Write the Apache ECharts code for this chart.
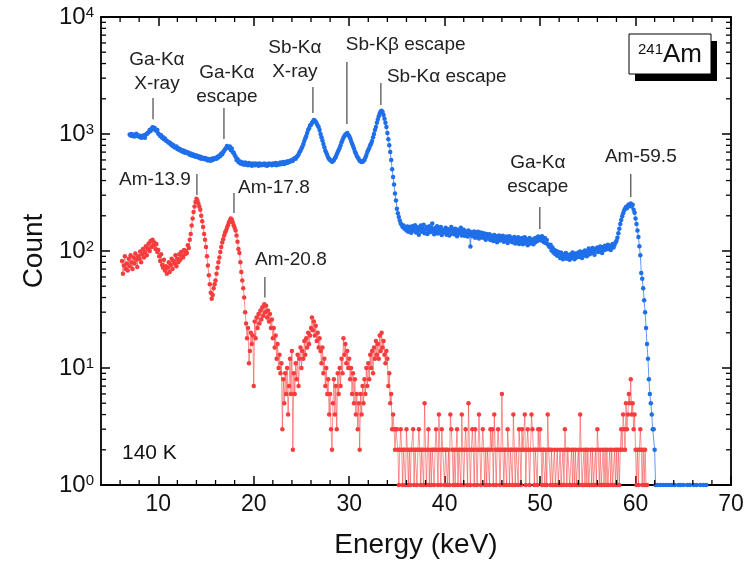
<!DOCTYPE html>
<html><head><meta charset="utf-8">
<script src="https://cdn.jsdelivr.net/npm/echarts@6/dist/echarts.min.js"></script>
<style>html,body{margin:0;padding:0;background:#fff}#c{width:748px;height:566px}</style>
</head><body><div id="c"></div>
<script>
// ---------- data ----------
const blueStart = 7.0, blueStep = 0.1;   // keV per channel
const blueCounts = [
 990,970,1000,960,985,950,975,1005,960,970,
 945,965,930,960,940,975,930,990,1000,1020,
 1040,1080,1060,1110,1140,1100,1130,1090,1060,1080,
 1010,990,960,975,930,940,900,915,880,870,
 860,840,845,815,820,790,800,770,765,780,
 745,755,730,740,715,725,700,720,690,705,
 700,680,690,665,680,655,670,650,660,640,
 655,635,645,625,640,615,630,620,610,625,
 605,615,595,610,600,590,615,600,620,610,
 625,615,640,630,655,650,680,670,700,720,
 740,760,790,770,760,780,730,750,700,690,
 660,640,600,610,575,585,560,575,555,565,
 545,570,550,560,540,565,545,555,535,560,
 550,540,560,545,555,535,560,550,540,555,
 545,560,540,555,535,550,560,545,555,540,
 560,545,555,565,540,555,560,550,570,555,
 560,575,555,570,580,565,585,575,590,585,
 600,590,610,620,615,640,650,670,700,720,
 750,780,820,870,920,960,1020,1080,1120,1180,
 1200,1240,1280,1320,1300,1270,1230,1180,1150,1080,
 1000,940,880,820,770,720,690,660,630,610,
 600,590,580,585,600,620,640,670,700,730,
 760,800,850,890,930,960,990,1000,1020,980,
 960,920,870,830,790,750,710,680,650,630,
 610,590,585,575,580,590,600,630,660,700,
 730,760,800,830,870,940,1000,1080,1150,1250,
 1330,1420,1500,1560,1580,1540,1450,1350,1250,1150,
 1020,900,800,700,600,500,430,370,310,270,
 230,210,195,182,172,168,160,165,155,158,
 150,162,146,160,152,143,163,150,156,166,
 144,160,150,138,157,165,146,154,168,142,
 153,160,140,151,163,145,157,172,148,139,
 157,145,163,141,153,147,160,137,151,144,
 149,158,138,154,145,136,151,160,141,150,
 139,155,144,134,152,141,148,158,136,145,
 152,135,147,140,133,150,139,109,145,134,
 140,147,130,143,135,146,128,139,144,133,
 130,142,135,125,140,132,128,139,124,135,
 131,122,137,126,134,119,130,136,123,132,
 125,135,120,129,123,133,117,128,134,121,
 129,119,127,132,116,126,121,131,115,125,
 119,129,114,124,131,117,126,112,123,129,
 116,125,120,114,128,119,130,122,133,125,
 130,123,134,125,119,129,117,124,114,111,
 108,113,101,107,97,102,94,100,91,98,
 95,87,97,90,85,94,88,96,86,93,
 91,84,94,87,97,90,85,95,88,93,
 97,89,99,92,87,98,91,101,94,90,
 99,105,94,102,96,106,98,93,104,100,
 107,98,105,109,100,96,108,102,111,103,
 107,113,104,111,102,110,115,107,113,118,
 122,130,142,155,170,184,198,210,222,230,
 238,232,245,250,243,255,240,248,225,212,
 190,170,150,132,110,92,65,58,48,38,
 30,22,16,12,8,6,5,4,3,3,
 2,1,null,1,null,null,1,null,null,1,
 null,null,1,null,null,1,null,null,1,null,
 null,1,null,null,null,1,null,1,null,null,
 1,null,null,null,1,null,null,1,null,null,
 null,1,null,null,1,null,null,null,1,null,
 null,1,null,null,1,null
];
const redStart = 6.2, redStep = 0.1;
const redCounts = [
 82,64,75,90,70,78,68,86,
 74,92,80,70,88,78,95,84,73,90,
 86,99,80,94,104,88,98,110,92,105,
 116,100,122,108,125,112,118,104,115,98,
 102,90,82,94,76,72,84,68,74,64,
 72,80,66,76,86,70,82,78,92,74,
 86,80,94,84,98,90,88,102,94,100,
 96,112,106,125,140,165,190,215,240,262,
 280,270,255,240,225,200,180,160,140,125,
 108,90,75,62,52,44,39,42,48,52,
 56,64,72,80,88,98,108,118,126,136,
 144,150,158,166,175,182,190,186,176,166,
 158,150,136,120,104,96,80,66,56,48,
 40,30,24,18,22,11,14,20,16,19,
 7,25,18,27,22,29,24,31,26,33,
 28,35,30,34,27,31,25,29,22,26,
 18,22,15,19,12,16,10,13,9,11,
 3,8,5,9,6,10,4,7,12,6,
 14,2,9,6,11,8,13,7,12,15,
 10,14,12,17,13,18,15,20,16,19,
 22,27,21,25,19,23,17,20,15,18,
 14,11,15,9,12,7,10,6,8,4,
 6,3,2,5,8,4,7,3,9,6,
 10,7,12,9,18,13,16,11,14,10,
 12,8,10,6,9,5,8,4,6,3,
 5,2,6,4,7,5,8,6,10,7,
 11,8,13,10,14,9,15,12,17,13,
 16,12,19,14,20,15,17,13,11,14,
 12,7,9,5,6,3,4,3,2,3,
 3,2,1,2,3,2,1,2,2,1,
 3,2,1,2,1,2,2,3,1,2,
 2,1,2,3,2,1,2,2,1,5,
 2,1,2,3,1,2,1,2,2,1,
 2,3,2,1,4,2,1,3,2,2,
 1,2,2,1,2,1,4,3,2,1,
 2,1,2,3,1,2,2,1,4,2,
 1,2,3,2,1,5,2,1,2,3,
 2,1,3,2,1,2,4,2,1,2,
 3,2,1,2,1,2,2,1,3,2,
 3,1,4,2,1,2,3,2,1,2,
 6,2,1,2,2,1,3,2,1,2,
 2,1,4,2,1,2,2,1,3,2,
 1,3,2,2,4,1,2,3,2,1,
 2,4,3,2,1,2,2,1,3,2,
 3,2,1,2,2,1,2,1,4,2,
 2,1,2,1,1,2,1,1,2,1,
 1,2,1,1,2,1,3,2,1,2,
 2,1,1,2,1,2,1,2,1,1,
 2,1,4,2,1,1,2,1,2,1,
 2,1,1,2,1,2,1,1,2,1,
 3,2,1,2,1,1,2,1,2,1,
 2,1,1,2,1,2,1,1,2,1,
 2,1,2,1,2,3,2,4,3,2,
 5,3,4,6,5,8,4,5,3,4,
 2,1,2,1,2,3,2,1,2,1,
 2,1,1
];
const xTickLabels = [10,20,30,40,50,60,70];
const yTickLabels = [1,10,100,1000,10000];

// annotations (anchored in data coordinates)
const annoText  = ['Ga-K\u03b1\nX-ray','Ga-K\u03b1\nescape','Sb-K\u03b1\nX-ray','Sb-K\u03b2 escape','Sb-K\u03b1 escape','Ga-K\u03b1\nescape','Am-59.5','Am-13.9','Am-17.8','Am-20.8'];
const annoLineE = [9.45, 16.88, 26.2, 29.76, 33.32, 49.97, 59.5, 14.05, 17.93, 21.17];
const annoLineTop = [2030, 1670, 2520, 4120, 2730, 238, 455, 455, 313, 60];
const annoLineBot = [1340, 906, 1510, 1220, 1770, 154, 290, 301, 211, 40];
const annoTextE = [9.86, 17.19, 24.31, 29.65, 33.95, 49.76, 60.55, 13.42, 18.35, 20.13];
const annoTextV = [3390, 2620, 4290, 5770, 3070, 451, 636, 405, 345, 84];
const annoAlign = ['center','center','center','left','left','center','center','right','left','left'];

// ---------- chart ----------
const FONT = '"Liberation Sans", Arial, sans-serif';
const X_MIN = 4, X_MAX = 70, Y_MIN = 1, Y_MAX = 10000;
const BLUE = '#1f6fea', RED = '#f53d3d';

function toPairs(start, step, arr) {
  return arr.map((v, i) => [+(start + i * step).toFixed(2), v === null ? '-' : v]);
}
const tickData = [];
for (let d = 1; d <= 1000; d *= 10) for (let k = 2; k <= 9; k++) tickData.push([X_MIN, k * d, 0]);
for (let e = 6; e < X_MAX; e += 2) if (e % 10 !== 0) tickData.push([e, Y_MIN, 1]);

const chart = echarts.init(document.getElementById('c'));
const axLine = {show: true, onZero: false, lineStyle: {color: '#000', width: 1.8}};
const xBase = {type: 'value', min: X_MIN, max: X_MAX, splitLine: {show: false}, axisLine: axLine};
const yBase = {type: 'log', logBase: 10, min: Y_MIN, max: Y_MAX, splitLine: {show: false}, axisLine: axLine,
  axisTick: {show: true, inside: true, length: 9, lineStyle: {color: '#000', width: 1.5}}};

chart.setOption({
  animation: false,
  grid: {left: 101, top: 17, width: 630, height: 468, containLabel: false},
  xAxis: [
    Object.assign({}, xBase, {position: 'bottom',
      axisTick: {show: true, inside: true, length: 9, customValues: xTickLabels, lineStyle: {color: '#000', width: 1.5}},
      axisLabel: {customValues: xTickLabels, fontSize: 23, fontFamily: FONT, color: '#111', margin: 8},
      name: 'Energy (keV)', nameLocation: 'middle', nameGap: 46,
      nameTextStyle: {fontSize: 28, fontFamily: FONT, color: '#111'}}),
    Object.assign({}, xBase, {position: 'top',
      axisTick: {show: true, inside: true, length: 9, customValues: xTickLabels, lineStyle: {color: '#000', width: 1.5}},
      axisLabel: {show: false}})
  ],
  yAxis: [
    Object.assign({}, yBase, {position: 'left',
      axisLabel: {margin: 7, formatter: v => '{b|10}{s|' + Math.round(Math.log10(v)) + '}',
        rich: {b: {fontSize: 24, fontFamily: FONT, color: '#111'},
               s: {fontSize: 15, fontFamily: FONT, color: '#111', verticalAlign: 'top'}}},
      name: 'Count', nameLocation: 'middle', nameGap: 50,
      nameTextStyle: {fontSize: 28, fontFamily: FONT, color: '#111'}}),
    Object.assign({}, yBase, {position: 'right', axisLabel: {show: false}})
  ],
  series: [
    {type: 'line', name: 'red', data: toPairs(redStart, redStep, redCounts),
     symbol: 'circle', symbolSize: 4.5, itemStyle: {color: RED},
     lineStyle: {color: RED, width: 1, opacity: 0.55}, z: 2},
    {type: 'line', name: 'blue', data: toPairs(blueStart, blueStep, blueCounts),
     symbol: 'circle', symbolSize: 4.5, itemStyle: {color: BLUE},
     lineStyle: {color: BLUE, width: 1, opacity: 0.7}, z: 3},
    {type: 'custom', name: 'minorTicks', data: tickData, clip: false, silent: true, z: 5,
     renderItem: (params, api) => {
       const kind = api.value(2);
       if (kind === 0) {
         const v = api.value(1);
         const p = api.coord([X_MIN, v]), q = api.coord([X_MAX, v]);
         return {type: 'group', children: [
           {type: 'line', shape: {x1: p[0], y1: p[1], x2: p[0] + 5, y2: p[1]}, style: {stroke: '#000', lineWidth: 1.3}},
           {type: 'line', shape: {x1: q[0], y1: q[1], x2: q[0] - 5, y2: q[1]}, style: {stroke: '#000', lineWidth: 1.3}}]};
       }
       const e = api.value(0);
       const p = api.coord([e, Y_MIN]), q = api.coord([e, Y_MAX]);
       return {type: 'group', children: [
         {type: 'line', shape: {x1: p[0], y1: p[1], x2: p[0], y2: p[1] - 5}, style: {stroke: '#000', lineWidth: 1.3}},
         {type: 'line', shape: {x1: q[0], y1: q[1], x2: q[0], y2: q[1] + 5}, style: {stroke: '#000', lineWidth: 1.3}}]};
     }},
    {type: 'custom', name: 'annotations', data: annoLineE.map((e, i) => [e, annoLineTop[i], i]),
     clip: false, silent: true, z: 6,
     renderItem: (params, api) => {
       const i = api.value(2);
       const a = api.coord([annoLineE[i], annoLineTop[i]]);
       const b = api.coord([annoLineE[i], annoLineBot[i]]);
       const t = api.coord([annoTextE[i], annoTextV[i]]);
       return {type: 'group', children: [
         {type: 'line', shape: {x1: a[0], y1: a[1], x2: b[0], y2: b[1]}, style: {stroke: '#555', lineWidth: 1.3}},
         {type: 'text', x: t[0], y: t[1], style: {text: annoText[i], fontSize: 19, fontFamily: FONT,
           fill: '#222', align: annoAlign[i], verticalAlign: 'middle', lineHeight: 24}}]};
     }}
  ],
  graphic: [
    {type: 'rect', x: 635, y: 41, shape: {width: 82, height: 40}, style: {fill: '#000'}, z: 100},
    {type: 'rect', x: 629, y: 34, shape: {width: 82, height: 40}, style: {fill: '#fff', stroke: '#000', lineWidth: 1}, z: 101},
    {type: 'text', x: 670, y: 55, z: 102, style: {text: '{s|241}{m|Am}', align: 'center', verticalAlign: 'middle',
      rich: {s: {fontSize: 15, fontFamily: FONT, fill: '#111', verticalAlign: 'top'},
             m: {fontSize: 26, fontFamily: FONT, fill: '#111'}}}},
    {type: 'text', x: 122, y: 453, z: 102, style: {text: '140 K', fontSize: 21, fontFamily: FONT, fill: '#111', verticalAlign: 'middle'}}
  ]
});
</script></body></html>
